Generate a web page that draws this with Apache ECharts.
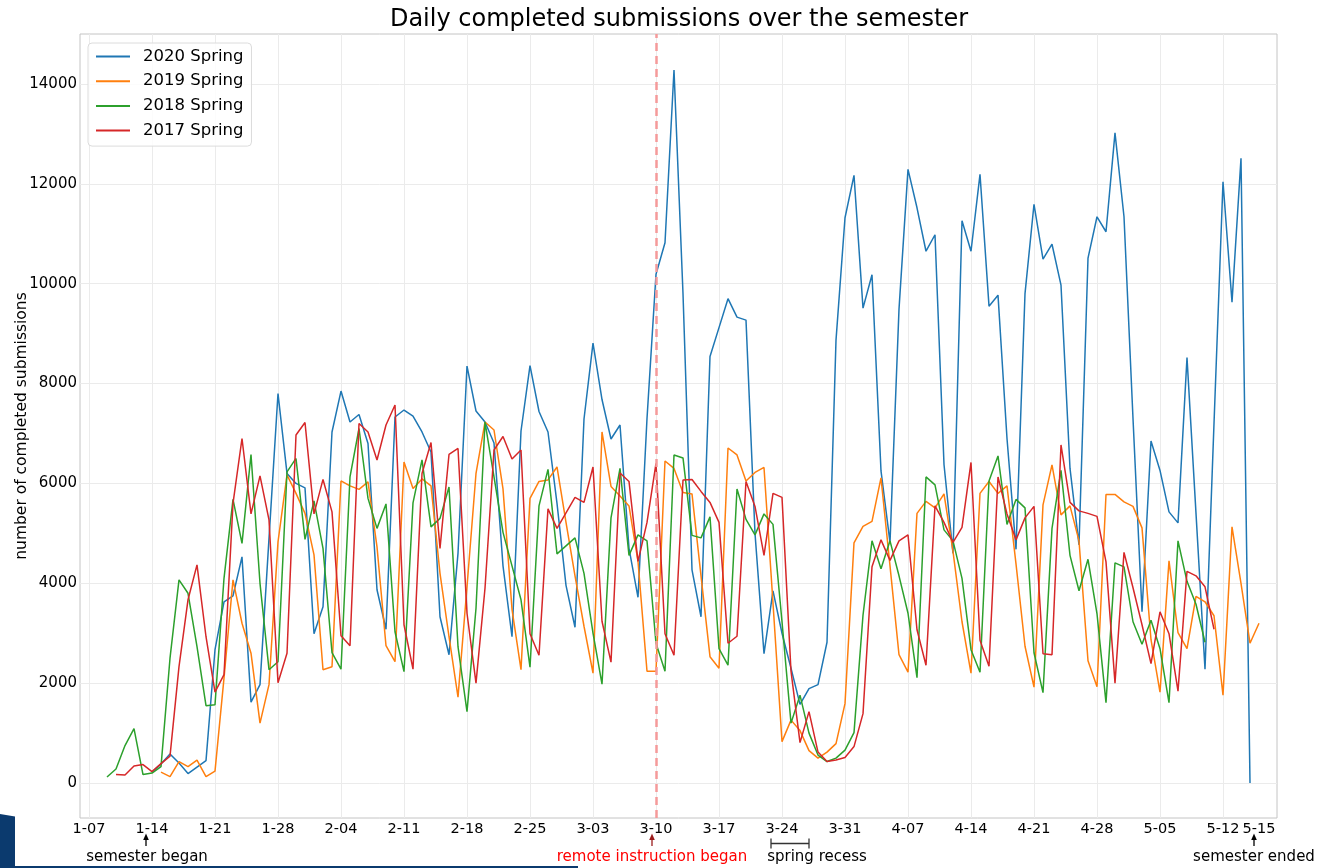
<!DOCTYPE html>
<html>
<head>
<meta charset="utf-8">
<title>Daily completed submissions over the semester</title>
<script src="https://cdn.jsdelivr.net/npm/echarts@6/dist/echarts.min.js"></script>
<style>
  html, body { margin: 0; padding: 0; background: #fff; }
  #chart { width: 1321px; height: 868px; }
</style>
</head>
<body>
<div id="chart"></div>
<script>
// day 0 = 1-07; each series lists one value per day from its start day
const firstDay = -1, lastDay = 132;

const tickDays   = [0, 7, 14, 21, 28, 35, 42, 49, 56, 63, 70, 77, 84, 91, 98, 105, 112, 119, 126, 130];
const tickLabels = ['1-07', '1-14', '1-21', '1-28', '2-04', '2-11', '2-18', '2-25', '3-03', '3-10',
                    '3-17', '3-24', '3-31', '4-07', '4-14', '4-21', '4-28', '5-05', '5-12', '5-15'];
const gridDays = tickDays.slice(0, 19);
const remoteDay = 63;

const start2020 = 7;
const spring2020 = [
  220, 380, 580, 400, 190, 320, 450, 2670, 3630, 3750, 4530, 1620, 1970, 4900,
  7800, 6200, 6000, 5910, 2990, 3530, 7030, 7850, 7230, 7380, 6800, 3870, 3080, 7330,
  7470, 7350, 7030, 6630, 3330, 2570, 4600, 8350, 7450, 7230, 6810, 4350, 2930, 7050,
  8360, 7440, 7030, 5600, 3960, 3120, 7290, 8810, 7680, 6890, 7170, 4700, 3720, 7300,
  10190, 10820, 14280, 9800, 4270, 3330, 8540, 9120, 9700, 9330, 9270, 5000, 2590, 3850,
  3000, 2300, 1575, 1890, 1970, 2820, 8870, 11320, 12170, 9510, 10180, 6250, 4820, 9490,
  12290, 11520, 10650, 10980, 6380, 4600, 11260, 10650, 12190, 9550, 9770, 6900, 4680, 9800,
  11590, 10490, 10790, 9970, 6300, 4770, 10510, 11340, 11040, 13020, 11340, 7300, 3430, 6850,
  6260, 5430, 5210, 8520, 5400, 2280, 7200, 12040, 9630, 12510, 0
];

const start2019 = 8;
const spring2019 = [
  220, 130, 430, 330, 460, 130, 240, 2100, 4070, 3200, 2600, 1200, 1970,
  4830, 6170, 5800, 5400, 4570, 2270, 2330, 6050, 5950, 5880, 6030, 4730, 2750, 2430,
  6430, 5900, 6090, 5950, 4200, 2930, 1720, 3930, 6200, 7230, 7070, 5890, 3480, 2270,
  5700, 6040, 6070, 6330, 5220, 4150, 3140, 2200, 7030, 5940, 5750, 5550, 4440, 2240,
  2240, 6450, 6300, 5820, 5790, 4150, 2530, 2300, 6710, 6570, 6050, 6220, 6320, 3600,
  830, 1260, 1050, 650, 500, 620, 790, 1590, 4810, 5140, 5240, 6110, 4350, 2570,
  2220, 5400, 5640, 5510, 5790, 4640, 3230, 2200, 5800, 6040, 5800, 5950, 4390, 2740,
  1920, 5570, 6370, 5370, 5550, 4850, 2450, 1930, 5780, 5780, 5630, 5540, 5110, 2870,
  1820, 4450, 3010, 2690, 3740, 3630, 3350, 1760, 5130, 4000, 2800, 3200
];

const start2018 = 2;
const spring2018 = [
  120, 280, 750, 1090, 170, 200, 330, 2500, 4070, 3800, 2730, 1550, 1570, 4100,
  5680, 4800, 6580, 4000, 2270, 2430, 6230, 6500, 4880, 5650, 4700, 2610, 2280, 6130,
  7100, 5700, 5100, 5590, 3030, 2230, 5610, 6470, 5130, 5300, 5930, 2730, 1430, 3500,
  7230, 6130, 5020, 4350, 3670, 2320, 5550, 6280, 4590, 4750, 4910, 4200, 3000, 1980,
  5310, 6300, 4560, 4970, 4850, 2800, 2240, 6570, 6510, 4960, 4910, 5330, 2690, 2360,
  5890, 5280, 4970, 5390, 5180, 3230, 1200, 1760, 1000, 560, 430, 500, 660, 1010,
  3360, 4850, 4290, 4850, 4150, 3400, 2110, 6130, 5970, 5070, 4850, 4100, 2670, 2220,
  6050, 6550, 5180, 5680, 5510, 2610, 1810, 5100, 6260, 4560, 3850, 4480, 3390, 1610,
  4410, 4330, 3230, 2780, 3260, 2690, 1610, 4850, 4040, 3580, 2820
];

const start2017 = 3;
const spring2017 = [
  170, 160, 340, 370, 230, 390, 540, 2330, 3670, 4370, 2930, 1820, 2170, 5600,
  6900, 5390, 6150, 5270, 2010, 2600, 6970, 7220, 5390, 6080, 5430, 2950, 2750, 7200,
  7030, 6470, 7170, 7570, 3170, 2280, 6200, 6820, 4700, 6580, 6700, 3400, 2000, 3900,
  6670, 6940, 6490, 6670, 2990, 2560, 5490, 5100, 5410, 5720, 5620, 6330, 3240, 2420,
  6210, 6040, 4440, 5220, 6400, 2990, 2560, 6070, 6080, 5840, 5620, 5220, 2800, 2940,
  6040, 5540, 4560, 5800, 5720, 2240, 810, 1430, 620, 430, 460, 510, 730, 1390,
  4330, 4870, 4460, 4850, 4970, 3070, 2360, 5550, 5220, 4820, 5120, 6420, 2860, 2340,
  6130, 5390, 4870, 5310, 5540, 2590, 2570, 6770, 5620, 5450, 5400, 5340, 4430, 2000,
  4620, 3910, 3170, 2390, 3430, 2990, 1840, 4240, 4150, 3930, 3080
];

const yTicks = [0, 2000, 4000, 6000, 8000, 10000, 12000, 14000];

// category axis: one slot per day
const days = [];
for (let d = firstDay; d <= lastDay; d++) days.push(String(d));

function onAxis(start, values) {
  const out = days.map(() => null);
  values.forEach((v, i) => { out[start + i - firstDay] = v; });
  return out;
}

const font = '"DejaVu Sans", sans-serif';
const chart = echarts.init(document.getElementById('chart'));

function lineSerie(name, color, start, values) {
  return {
    name: name,
    type: 'line',
    data: onAxis(start, values),
    symbol: 'none',
    lineStyle: { color: color, width: 1.5 },
    itemStyle: { color: color },
    connectNulls: false,
    animation: false
  };
}

const series = [
  lineSerie('2020 Spring', '#1f77b4', start2020, spring2020),
  lineSerie('2019 Spring', '#ff7f0e', start2019, spring2019),
  lineSerie('2018 Spring', '#2ca02c', start2018, spring2018),
  lineSerie('2017 Spring', '#d62728', start2017, spring2017)
];
series[0].markLine = {
  silent: true,
  symbol: ['none', 'none'],
  label: { show: false },
  lineStyle: { color: '#f59a9a', type: [8, 5], width: 2.5 },
  data: [{ xAxis: remoteDay - firstDay }],
  animation: false
};

const ink = '#000';
const option = {
  backgroundColor: '#fff',
  animation: false,
  textStyle: { fontFamily: font },
  grid: {
    left: 80, top: 34, width: 1197, height: 784,
    outerBoundsMode: 'none',
    containLabel: false,
    show: true, borderColor: '#c4c4c4', borderWidth: 1, backgroundColor: 'transparent'
  },
  legend: {
    left: 88, top: 43,
    orient: 'vertical',
    itemWidth: 34, itemHeight: 16, itemGap: 7.7,
    padding: [5, 8, 7, 7],
    backgroundColor: 'rgba(255,255,255,0.85)',
    borderColor: '#dcdcdc', borderWidth: 1, borderRadius: 4,
    itemStyle: { opacity: 0 },
    textStyle: { fontSize: 16.5, color: ink, fontFamily: font, padding: [0, 0, 0, 8] },
    data: ['2020 Spring', '2019 Spring', '2018 Spring', '2017 Spring']
  },
  xAxis: {
    type: 'category',
    data: days,
    boundaryGap: false,
    axisLine: { show: false },
    axisTick: { show: false },
    axisLabel: {
      interval: (i, v) => tickDays.indexOf(Number(v)) >= 0,
      formatter: v => tickLabels[tickDays.indexOf(Number(v))] || '',
      color: ink, fontSize: 14.5, fontFamily: font, margin: 4
    },
    splitLine: {
      show: true,
      interval: (i, v) => gridDays.indexOf(Number(v)) >= 0,
      lineStyle: { color: '#ebebeb', width: 1 }
    }
  },
  yAxis: {
    type: 'value',
    min: -700, max: 15000,
    name: 'number of completed submissions',
    nameLocation: 'middle',
    nameGap: 50,
    nameMoveOverlap: false,
    nameTextStyle: { fontSize: 15.5, color: ink, fontFamily: font },
    axisLine: { show: false },
    axisTick: { show: false, customValues: yTicks },
    axisLabel: {
      customValues: yTicks, formatter: v => String(v),
      color: ink, fontSize: 15, fontFamily: font, margin: 3
    },
    splitLine: { show: true, lineStyle: { color: '#ebebeb', width: 1 } }
  },
  series: series,
  graphic: [
    // title
    { type: 'text', x: 679, y: 20, style: {
        text: 'Daily completed submissions over the semester', align: 'center', verticalAlign: 'middle',
        font: '24px "DejaVu Sans", sans-serif', fill: ink } },
    // slide corner
    { type: 'polygon', shape: { points: [[0, 814], [15, 816.5], [15, 868], [0, 868]] }, style: { fill: '#0b3a6e' } },
    { type: 'rect', shape: { x: 0, y: 866, width: 578, height: 2 }, style: { fill: '#0b3a6e' } },
    // semester began
    { type: 'line', shape: { x1: 146, y1: 846, x2: 146, y2: 838 }, style: { stroke: ink, lineWidth: 1.3 } },
    { type: 'polygon', shape: { points: [[146, 833.5], [143.2, 840], [148.8, 840]] }, style: { fill: ink } },
    { type: 'text', x: 147, y: 857, style: { text: 'semester began', align: 'center', verticalAlign: 'middle',
        font: '15px "DejaVu Sans", sans-serif', fill: ink } },
    // remote instruction began
    { type: 'line', shape: { x1: 652, y1: 846, x2: 652, y2: 838 }, style: { stroke: '#9b1c1c', lineWidth: 1.3 } },
    { type: 'polygon', shape: { points: [[652, 833.5], [649.2, 840], [654.8, 840]] }, style: { fill: '#9b1c1c' } },
    { type: 'text', x: 652, y: 857, style: { text: 'remote instruction began', align: 'center', verticalAlign: 'middle',
        font: '15px "DejaVu Sans", sans-serif', fill: '#ff0000' } },
    // spring recess
    { type: 'line', shape: { x1: 771, y1: 843.5, x2: 809, y2: 843.5 }, style: { stroke: '#333', lineWidth: 1.3 } },
    { type: 'line', shape: { x1: 771, y1: 838.5, x2: 771, y2: 848.5 }, style: { stroke: '#333', lineWidth: 1.3 } },
    { type: 'line', shape: { x1: 809, y1: 838.5, x2: 809, y2: 848.5 }, style: { stroke: '#333', lineWidth: 1.3 } },
    { type: 'text', x: 817, y: 857, style: { text: 'spring recess', align: 'center', verticalAlign: 'middle',
        font: '15px "DejaVu Sans", sans-serif', fill: ink } },
    // semester ended
    { type: 'line', shape: { x1: 1254, y1: 846, x2: 1254, y2: 838 }, style: { stroke: ink, lineWidth: 1.3 } },
    { type: 'polygon', shape: { points: [[1254, 833.5], [1251.2, 840], [1256.8, 840]] }, style: { fill: ink } },
    { type: 'text', x: 1254, y: 857, style: { text: 'semester ended', align: 'center', verticalAlign: 'middle',
        font: '15px "DejaVu Sans", sans-serif', fill: ink } }
  ]
};

chart.setOption(option);
</script>
</body>
</html>
